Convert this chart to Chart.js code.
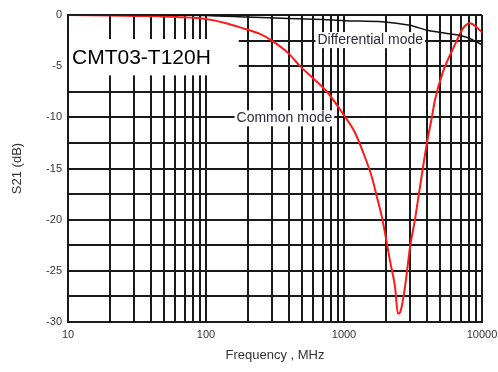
<!DOCTYPE html>
<html>
<head>
<meta charset="utf-8">
<script src="https://cdn.jsdelivr.net/npm/chart.js@4.4.1/dist/chart.umd.min.js"></script>
<style>
  html, body { margin: 0; padding: 0; background: #fff; }
  #wrap { width: 498px; height: 372px; }
</style>
</head>
<body>
<div id="wrap"><canvas id="s21chart" width="498" height="372"></canvas></div>
<script>
// frequency grid (MHz) - every 1..9 step of each decade
var gridFreqs = [10, 20, 30, 40, 50, 60, 70, 80, 90,
                 100, 200, 300, 400, 500, 600, 700, 800, 900,
                 1000, 2000, 3000, 4000, 5000, 6000, 7000, 8000, 9000, 10000];
var decadeLabels = [10, 100, 1000, 10000];

// common mode curve (red)
var freqCommon = [10, 20, 40, 62, 100, 140, 185, 250, 300, 400, 480, 600, 753, 1000, 1202, 1420, 1596, 1734, 1885, 1982, 2153, 2344, 2460, 2560, 2766, 3008, 3268, 3434, 3735, 3990, 4343, 4562, 5200, 6370, 7280, 8190, 9150, 10000];
var s21Common  = [0, -0.05, -0.1, -0.2, -0.4, -0.8, -1.3, -1.9, -2.5, -3.8, -5.0, -6.2, -7.5, -9.8, -11.5, -13.9, -15.9, -17.8, -19.8, -21.3, -24.0, -26.6, -29.2, -29.0, -26.6, -22.7, -20.0, -18.1, -14.9, -12.5, -9.9, -8.3, -5.6, -2.9, -1.3, -0.8, -1.2, -1.7];

// differential mode curve (black)
var freqDiff = [10, 50, 100, 200, 400, 700, 1000, 1900, 3000, 4000, 5570, 6970, 8190, 9000, 10000];
var s21Diff  = [0, 0, -0.05, -0.2, -0.35, -0.45, -0.55, -0.65, -1.0, -1.5, -1.8, -2.0, -2.3, -2.6, -2.9];

function toPoints(xs, ys) {
    var pts = [];
    for (var i = 0; i < xs.length; i++) pts.push({x: xs[i], y: ys[i]});
    return pts;
}

// text labels drawn on white boxes over the grid
var labelBoxes = [
    {text: 'CMT03-T120H', x0: 10, x1: 170, y0: -2.35, y1: -5.9, font: '21px "Liberation Sans", Arial, sans-serif', color: '#000'},
    {text: 'Differential mode', x: 1550, y: -2.45, font: '14px "Liberation Sans", Arial, sans-serif', color: '#2a2a3a'},
    {text: 'Common mode', x: 370, y: -10.1, font: '14px "Liberation Sans", Arial, sans-serif', color: '#2a2a3a'}
];

var labelPlugin = {
    id: 'labelPlugin',
    beforeDatasetsDraw: function(chart) {
        var ctx = chart.ctx, xs = chart.scales.x, ys = chart.scales.y;
        ctx.save();
        labelBoxes.forEach(function(b) {
            ctx.font = b.font;
            if (b.x0 !== undefined) {
                var l = xs.getPixelForValue(b.x0), r = xs.getPixelForValue(b.x1);
                var t = ys.getPixelForValue(b.y0), bt = ys.getPixelForValue(b.y1);
                ctx.fillStyle = '#fff';
                ctx.fillRect(l + 1, t, r - l, bt - t);
                ctx.fillStyle = b.color;
                ctx.textBaseline = 'middle';
                ctx.textAlign = 'left';
                ctx.fillText(b.text, l + 4, (t + bt) / 2 + 1);
            } else {
                var cx = xs.getPixelForValue(b.x), cy = ys.getPixelForValue(b.y);
                var w = ctx.measureText(b.text).width;
                ctx.fillStyle = '#fff';
                ctx.fillRect(cx - w / 2 - 2, cy - 8, w + 4, 16);
                ctx.fillStyle = b.color;
                ctx.textBaseline = 'middle';
                ctx.textAlign = 'center';
                ctx.fillText(b.text, cx, cy);
            }
        });
        ctx.restore();
    }
};

var tickFont = {family: '"Liberation Sans", Arial, sans-serif', size: 11};
var titleFont = {family: '"Liberation Sans", Arial, sans-serif', size: 13};

var chart = new Chart(document.getElementById('s21chart').getContext('2d'), {
    type: 'line',
    data: {
        datasets: [{
            label: 'Differential mode',
            data: toPoints(freqDiff, s21Diff),
            borderColor: '#111',
            borderWidth: 1.5,
            pointRadius: 0,
            tension: 0.3,
            fill: false
        }, {
            label: 'Common mode',
            data: toPoints(freqCommon, s21Common),
            borderColor: '#ff1a1a',
            borderWidth: 2,
            pointRadius: 0,
            cubicInterpolationMode: 'monotone',
            fill: false
        }]
    },
    options: {
        responsive: false,
        animation: false,
        devicePixelRatio: 1,
        layout: {padding: {top: 15, right: 16, left: 0, bottom: 0}},
        plugins: {legend: {display: false}, tooltip: {enabled: false}},
        scales: {
            x: {
                type: 'logarithmic',
                min: 10,
                max: 10000,
                afterBuildTicks: function(scale) {
                    scale.ticks = gridFreqs.map(function(v) { return {value: v}; });
                },
                afterFit: function(scale) {
                    scale.height = 50;
                    scale.paddingLeft = 0;
                    scale.paddingRight = 0;
                },
                ticks: {
                    autoSkip: false,
                    maxRotation: 0,
                    padding: 6,
                    color: '#333',
                    font: tickFont,
                    callback: function(v) {
                        return decadeLabels.indexOf(v) >= 0 ? String(v) : '';
                    }
                },
                grid: {color: '#1a1a1a', lineWidth: 2, drawTicks: false},
                border: {color: '#1a1a1a', width: 2},
                title: {display: true, text: 'Frequency , MHz', color: '#333', font: titleFont, padding: {top: 4, bottom: 9}}
            },
            y: {
                min: -30,
                max: 0,
                afterFit: function(scale) {
                    scale.width = 68;
                    scale.paddingTop = 0;
                    scale.paddingBottom = 0;
                },
                ticks: {
                    stepSize: 2.5,
                    padding: 6,
                    color: '#333',
                    font: tickFont,
                    callback: function(v) { return v % 5 === 0 ? String(v) : ''; }
                },
                grid: {color: '#1a1a1a', lineWidth: 2, drawTicks: false},
                border: {color: '#1a1a1a', width: 2},
                title: {display: true, text: 'S21 (dB)', color: '#333', font: titleFont, padding: {top: 10, bottom: 0}}
            }
        }
    },
    plugins: [labelPlugin]
});
</script>
</body>
</html>
